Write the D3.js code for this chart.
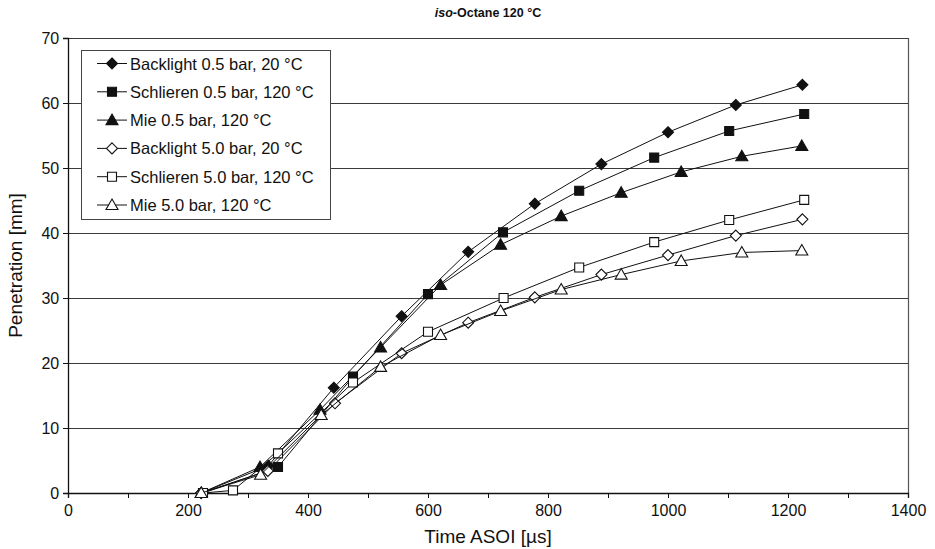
<!DOCTYPE html>
<html>
<head>
<meta charset="utf-8">
<script src="https://cdn.jsdelivr.net/npm/d3@7"></script>
<style>
  body { margin: 0; background: #fff; }
  svg text { font-family: "Liberation Sans", Arial, sans-serif; fill: #111; }
</style>
</head>
<body>
<div id="chart"></div>
<script>
// series labels (legend order)
const seriesNames = [
    "Backlight 0.5 bar, 20 °C",
    "Schlieren 0.5 bar, 120 °C",
    "Mie 0.5 bar, 120 °C",
    "Backlight 5.0 bar, 20 °C",
    "Schlieren 5.0 bar, 120 °C",
    "Mie 5.0 bar, 120 °C"
];

// time after start of injection [µs] and penetration [mm]
const tBacklight05 = [222, 334, 443, 556, 667, 778, 889, 1000, 1113, 1224];
const pBacklight05 = [0, 4.2, 16.2, 27.2, 37.1, 44.5, 50.6, 55.5, 59.7, 62.8];

const tSchlieren05 = [225, 350, 475, 600, 725, 852, 977, 1102, 1227];
const pSchlieren05 = [0, 4.0, 17.9, 30.6, 40.1, 46.5, 51.6, 55.7, 58.3];

const tMie05 = [222, 320, 420, 521, 621, 721, 822, 922, 1022, 1123, 1223];
const pMie05 = [0, 4.0, 12.8, 22.4, 32.0, 38.2, 42.6, 46.2, 49.4, 51.8, 53.4];

const tBacklight50 = [222, 333, 445, 556, 667, 778, 889, 1000, 1113, 1224];
const pBacklight50 = [0, 3.4, 13.8, 21.5, 26.2, 30.1, 33.6, 36.6, 39.6, 42.1];

const tSchlieren50 = [225, 275, 350, 475, 600, 726, 852, 977, 1102, 1227];
const pSchlieren50 = [0, 0.4, 6.1, 17.0, 24.8, 30.0, 34.7, 38.6, 42.0, 45.1];

const tMie50 = [222, 321, 422, 521, 621, 721, 822, 922, 1022, 1123, 1223];
const pMie50 = [0, 2.8, 12.0, 19.4, 24.3, 28.0, 31.3, 33.6, 35.7, 37.0, 37.3];

const xTicks = [0, 200, 400, 600, 800, 1000, 1200, 1400];
const yTicks = [0, 10, 20, 30, 40, 50, 60, 70];

const allT = [tBacklight05, tSchlieren05, tMie05, tBacklight50, tSchlieren50, tMie50];
const allP = [pBacklight05, pSchlieren05, pMie05, pBacklight50, pSchlieren50, pMie50];
const markerShape = ["diamond", "square", "triangle", "diamond", "square", "triangle"];
const markerFilled = [true, true, true, false, false, false];

// build series objects for d3
let series = seriesNames.map((name, i) => ({
    name: name,
    shape: markerShape[i],
    filled: markerFilled[i],
    values: allT[i].map((t, j) => ({ t: t, p: allP[i][j] }))
}));

const W = 935, H = 549;
const margin = { top: 38, right: 27, bottom: 56, left: 68 };
const width = W - margin.left - margin.right;
const height = H - margin.top - margin.bottom;

let svg = d3.select("#chart").append("svg")
    .attr("width", W)
    .attr("height", H);

let g = svg.append("g")
    .attr("transform", "translate(" + margin.left + "," + margin.top + ")");

let x = d3.scaleLinear().domain([0, 1400]).range([0, width]);
let y = d3.scaleLinear().domain([0, 70]).range([height, 0]);

// horizontal grid lines
g.append("g")
    .selectAll("line")
    .data(yTicks.filter(d => d > 0))
    .enter().append("line")
    .attr("x1", 0)
    .attr("x2", width)
    .attr("y1", d => Math.round(y(d)) + 0.5)
    .attr("y2", d => Math.round(y(d)) + 0.5)
    .attr("stroke", "#3a3a3a")
    .attr("stroke-width", 1);

// right border
g.append("line")
    .attr("x1", Math.round(width) + 0.5)
    .attr("x2", Math.round(width) + 0.5)
    .attr("y1", 0)
    .attr("y2", height)
    .attr("stroke", "#555")
    .attr("stroke-width", 1.2);

// axes
let xAxis = d3.axisBottom(x)
    .tickValues(d3.range(0, 1401, 100))
    .tickSize(5)
    .tickFormat(d => (xTicks.includes(d) ? d : ""));

let yAxis = d3.axisLeft(y)
    .tickValues(yTicks)
    .tickSize(5);

let xg = g.append("g")
    .attr("transform", "translate(0," + height + ")")
    .call(xAxis);
xg.select(".domain").attr("stroke", "#111").attr("stroke-width", 1.3);
xg.selectAll(".tick line").attr("stroke", "#111");
xg.selectAll(".tick text").attr("font-size", 16).attr("dy", "0.95em").attr("fill", "#111");

let yg = g.append("g").call(yAxis);
yg.select(".domain").attr("stroke", "#111").attr("stroke-width", 1.3);
yg.selectAll(".tick line").attr("stroke", "#111");
yg.selectAll(".tick text").attr("font-size", 16).attr("dx", "-0.05em").attr("fill", "#111");
yg.selectAll(".tick text").attr("font-family", "Liberation Sans, Arial, sans-serif");
xg.selectAll(".tick text").attr("font-family", "Liberation Sans, Arial, sans-serif");

// marker path generator, centred on 0,0
function markerPath(shape) {
    if (shape === "diamond") {
        let r = 5.5;
        return "M0," + (-r) + "L" + r + ",0L0," + r + "L" + (-r) + ",0Z";
    } else if (shape === "square") {
        let r = 4.5;
        return "M" + (-r) + "," + (-r) + "H" + r + "V" + r + "H" + (-r) + "Z";
    } else {
        let r = 6;
        return "M0," + (-r) + "L" + r + "," + (r * 0.75) + "L" + (-r) + "," + (r * 0.75) + "Z";
    }
}

let line = d3.line()
    .x(d => x(d.t))
    .y(d => y(d.p));

let plot = g.append("g");

let groups = plot.selectAll(".series")
    .data(series)
    .enter().append("g")
    .attr("class", "series");

groups.append("path")
    .attr("d", d => line(d.values))
    .attr("fill", "none")
    .attr("stroke", "#111")
    .attr("stroke-width", 1);

groups.each(function (s) {
    d3.select(this).selectAll(".mk")
        .data(s.values)
        .enter().append("path")
        .attr("class", "mk")
        .attr("transform", d => "translate(" + x(d.t) + "," + y(d.p) + ")")
        .attr("d", markerPath(s.shape))
        .attr("fill", s.filled ? "#111" : "#fff")
        .attr("stroke", "#111")
        .attr("stroke-width", 1.1);
});

// legend
let legend = svg.append("g")
    .attr("transform", "translate(81,50)");

legend.append("rect")
    .attr("x", 0.5)
    .attr("y", 0.5)
    .attr("width", 249)
    .attr("height", 169)
    .attr("fill", "#fff")
    .attr("stroke", "#444")
    .attr("stroke-width", 1);

let items = legend.selectAll(".item")
    .data(series)
    .enter().append("g")
    .attr("class", "item")
    .attr("transform", (d, i) => "translate(0," + (13.5 + i * 28.3) + ")");

items.append("line")
    .attr("x1", 16)
    .attr("x2", 46)
    .attr("y1", 0)
    .attr("y2", 0)
    .attr("stroke", "#111");

items.append("path")
    .attr("transform", "translate(31,0)")
    .attr("d", d => markerPath(d.shape))
    .attr("fill", d => (d.filled ? "#111" : "#fff"))
    .attr("stroke", "#111")
    .attr("stroke-width", 1.1);

items.append("text")
    .attr("x", 49)
    .attr("y", 6)
    .attr("font-size", 16.5)
    .text(d => d.name);

// title
let title = svg.append("text")
    .attr("x", margin.left + width / 2)
    .attr("y", 17)
    .attr("text-anchor", "middle")
    .attr("font-size", 12.5)
    .attr("font-weight", "bold");
title.append("tspan").attr("font-style", "italic").text("iso");
title.append("tspan").text("-Octane 120 °C");

// axis titles
svg.append("text")
    .attr("x", margin.left + width / 2)
    .attr("y", 543)
    .attr("text-anchor", "middle")
    .attr("font-size", 19)
    .text("Time ASOI [µs]");

svg.append("text")
    .attr("transform", "translate(22," + (margin.top + height / 2) + ") rotate(-90)")
    .attr("text-anchor", "middle")
    .attr("font-size", 19)
    .text("Penetration [mm]");
</script>
</body>
</html>
